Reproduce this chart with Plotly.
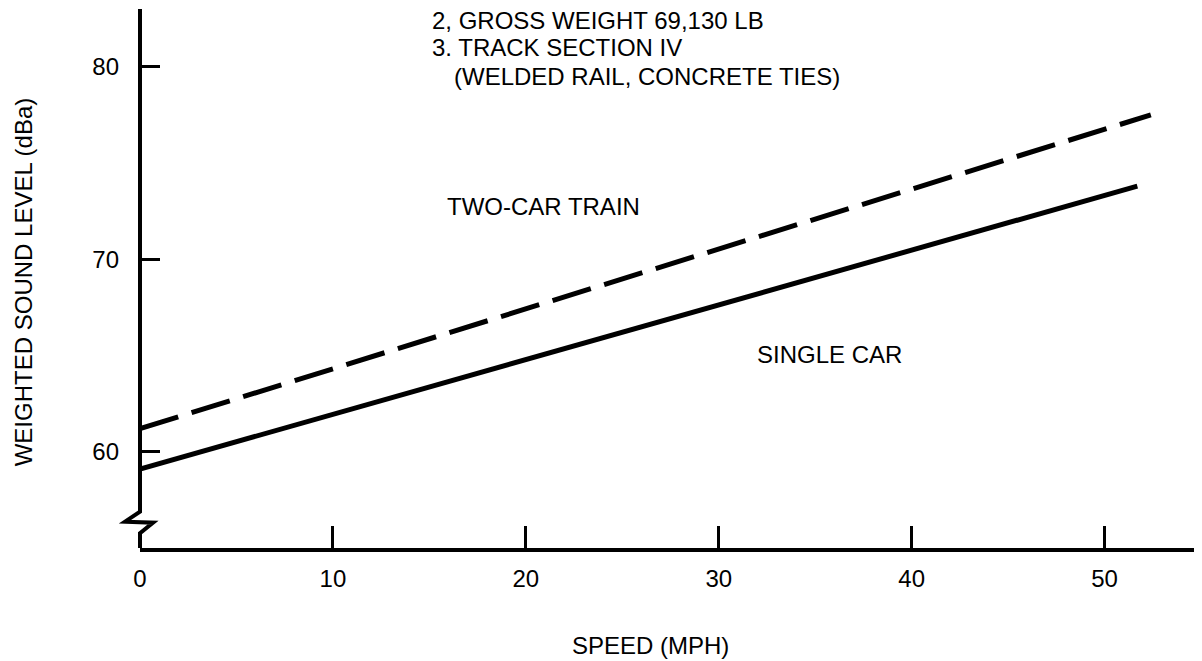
import plotly.graph_objects as go

# values
speed_single = [0, 51.7]
level_single = [59.1, 73.8]
speed_two = [0, 52.4]
level_two = [61.2, 77.5]

x_tickvals = [0, 10, 20, 30, 40, 50]
x_marked = [10, 20, 30, 40, 50]
y_tickvals = [60, 70, 80]

notes = ['2, GROSS WEIGHT 69,130 LB', '3. TRACK SECTION IV', '(WELDED RAIL, CONCRETE TIES)']
note_x = [15.03, 15.03, 16.17]
note_y = [82.38, 81.0, 79.48]

FONT = 'Liberation Sans, Arial, Helvetica, sans-serif'

fig = go.Figure()

fig.add_trace(go.Scatter(
    x=speed_two, y=level_two, mode='lines',
    line=dict(color='black', width=5, dash='40px,14px'),
    showlegend=False, hoverinfo='skip',
))
fig.add_trace(go.Scatter(
    x=speed_single, y=level_single, mode='lines',
    line=dict(color='black', width=5),
    showlegend=False, hoverinfo='skip',
))
# empty trace so the overlay axis carrying the tick marks gets drawn
fig.add_trace(go.Scatter(x=[], y=[], xaxis='x2', showlegend=False))

for text, nx, ny in zip(notes, note_x, note_y):
    fig.add_annotation(x=nx, y=ny, text=text, showarrow=False, xanchor='left',
                       yanchor='middle', font=dict(size=24, color='black', family=FONT))

fig.add_annotation(x=20.9, y=72.73, text='TWO-CAR TRAIN', showarrow=False,
                   font=dict(size=24, color='black', family=FONT))
fig.add_annotation(x=35.75, y=65.04, text='SINGLE CAR', showarrow=False,
                   font=dict(size=24, color='black', family=FONT))

fig.add_annotation(xref='paper', yref='paper', x=-0.110, y=0.4935,
                   xanchor='center', yanchor='middle',
                   text='WEIGHTED SOUND LEVEL (dBa)', textangle=-90, showarrow=False,
                   font=dict(size=24, color='black', family=FONT))
fig.add_annotation(xref='paper', yref='paper', x=0.4807, y=-0.1818,
                   xanchor='center', yanchor='middle',
                   text='SPEED (MPH)', showarrow=False,
                   font=dict(size=24, color='black', family=FONT))

# y axis line with the break symbol near the bottom
fig.add_shape(
    type='path', xref='paper', yref='paper',
    path='M 0,1 L 0,0.0673 L -0.0141,0.0488 L 0.0124,0.0470 L 0,0.0273 L 0,0',
    line=dict(color='black', width=4),
)

fig.update_layout(
    width=1202,
    height=661,
    # page body adds 8px, so margins are shifted to keep the plot area in place
    margin=dict(l=132, r=9, t=1, b=121),
    paper_bgcolor='white',
    plot_bgcolor='white',
    font=dict(family=FONT, color='black', size=24),
    xaxis=dict(
        range=[0, 55],
        tickvals=x_tickvals,
        ticks='',
        showgrid=False,
        zeroline=False,
        showline=True,
        linecolor='black',
        linewidth=4,
        ticklabelstandoff=6,
        tickfont=dict(size=24),
    ),
    xaxis2=dict(
        range=[0, 55],
        overlaying='x',
        anchor='y',
        side='bottom',
        tickvals=x_marked,
        ticks='inside',
        ticklen=22,
        tickwidth=3,
        tickcolor='black',
        showticklabels=False,
        showgrid=False,
        zeroline=False,
        showline=False,
    ),
    yaxis=dict(
        range=[55, 83],
        tickvals=y_tickvals,
        ticks='inside',
        ticklen=20,
        tickwidth=3,
        tickcolor='black',
        showgrid=False,
        zeroline=False,
        showline=False,
        ticklabelstandoff=20,
        tickfont=dict(size=24),
    ),
)

fig.write_html('out.html')
